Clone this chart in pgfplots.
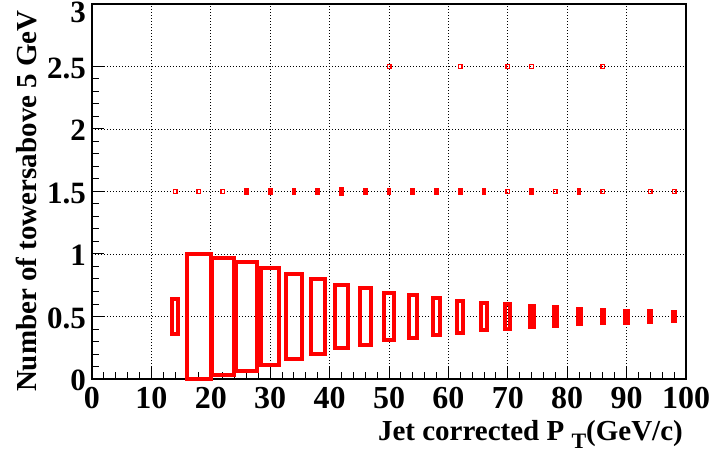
\documentclass[border=0pt]{standalone}
\usepackage{pgfplots}
\pgfplotsset{compat=1.18}
\usepackage{pgfplotstable}
\usepackage{fontspec}
\setmainfont{Liberation Serif}

% Cell contents relative to the fullest cell (r = 1), one row per filled cell
\pgfplotstableread{
x   y    r
14  0.5  0.28
18  0.5  1.00
22  0.5  0.936
26  0.5  0.864
30  0.5  0.77
34  0.5  0.68
38  0.5  0.60
42  0.5  0.51
46  0.5  0.45
50  0.5  0.38
54  0.5  0.34
58  0.5  0.30
62  0.5  0.256
66  0.5  0.216
70  0.5  0.20
74  0.5  0.168
78  0.5  0.152
82  0.5  0.12
86  0.5  0.11
90  0.5  0.096
94  0.5  0.088
98  0.5  0.072
26  1.5  0.03
30  1.5  0.03
34  1.5  0.03
38  1.5  0.03
42  1.5  0.045
46  1.5  0.025
50  1.5  0.025
54  1.5  0.025
58  1.5  0.025
62  1.5  0.025
66  1.5  0.025
74  1.5  0.02
82  1.5  0.02
}\cells

% Cells holding a single jet
\pgfplotstableread{
x   y
14  1.5
18  1.5
22  1.5
70  1.5
78  1.5
86  1.5
94  1.5
98  1.5
50  2.5
62  2.5
70  2.5
74  2.5
86  2.5
}\single

% Box marker: half sizes \hw and \hh are given in bp
\pgfdeclareplotmark{cellbox}{%
  \pgfpathrectangle{\pgfpoint{-\hw bp}{-\hh bp}}{\pgfpoint{2*\hw bp}{2*\hh bp}}%
  \pgfusepathqstroke
}

\begin{document}
\begin{tikzpicture}
\begin{axis}[
  scale only axis,
  width=594bp, height=375bp,
  xmin=0, xmax=100, ymin=0, ymax=3,
  xtick={0,10,20,30,40,50,60,70,80,90,100},
  xticklabels={0,10,20,30,40,50,60,70,80,90,100},
  ytick={0,0.5,1,1.5,2,2.5},
  yticklabels={0,0.5,1,1.5,2,2.5},
  extra y ticks={3},
  extra y tick labels={3},
  extra y tick style={yticklabel style={yshift=-7bp}},
  minor x tick num=4, minor y tick num=4,
  tick align=inside, tick pos=left,
  major tick length=12bp, minor tick length=7bp,
  tick style={black, line width=1bp},
  axis line style={black, line width=1.3bp},
  grid=major,
  major grid style={black, line width=0.8bp, dash pattern=on 0.8bp off 2.2bp},
  axis on top,
  /pgf/number format/assume math mode=true,
  xticklabel style={font=\bfseries\fontsize{32bp}{32bp}\selectfont, inner sep=0pt, anchor=north, yshift=-8bp},
  yticklabel style={font=\bfseries\fontsize{31bp}{31bp}\selectfont, inner sep=0pt, anchor=east, xshift=-6bp, yshift=-1.5bp},
  every axis x label/.style={at={(rel axis cs:1,0)}, xshift=-3bp, yshift=-61bp,
    anchor=base east, inner sep=0pt, font=\bfseries\fontsize{29bp}{29bp}\selectfont},
  every axis y label/.style={at={(rel axis cs:0,1)}, xshift=-55bp, yshift=-6bp,
    rotate=90, anchor=base east, inner sep=0pt, font=\bfseries\fontsize{29bp}{29bp}\selectfont},
  xlabel={Jet corrected P\ \raisebox{-8bp}{\fontsize{22bp}{22bp}\selectfont T}(GeV/c)},
  ylabel={Number of towersabove 5 GeV},
]
% filled cells, box side proportional to content
\addplot[only marks, mark=cellbox,
  visualization depends on={2*\thisrow{r}*5.94 \as \hw},
  visualization depends on={0.5*\thisrow{r}*125 \as \hh},
  mark options={draw=red, line width=4bp, solid}]
  table[x=x, y=y] {\cells};
% single-entry cells
\addplot[only marks, mark=square, mark size=1.8bp,
  mark options={draw=red, line width=1.4bp, solid}]
  table[x=x, y=y] {\single};
\end{axis}
\pgfresetboundingbox
\path[use as bounding box] ([xshift=-92bp,yshift=-74bp]current axis.south west)
  rectangle ([xshift=23bp,yshift=4bp]current axis.north east);
\end{tikzpicture}
\end{document}
